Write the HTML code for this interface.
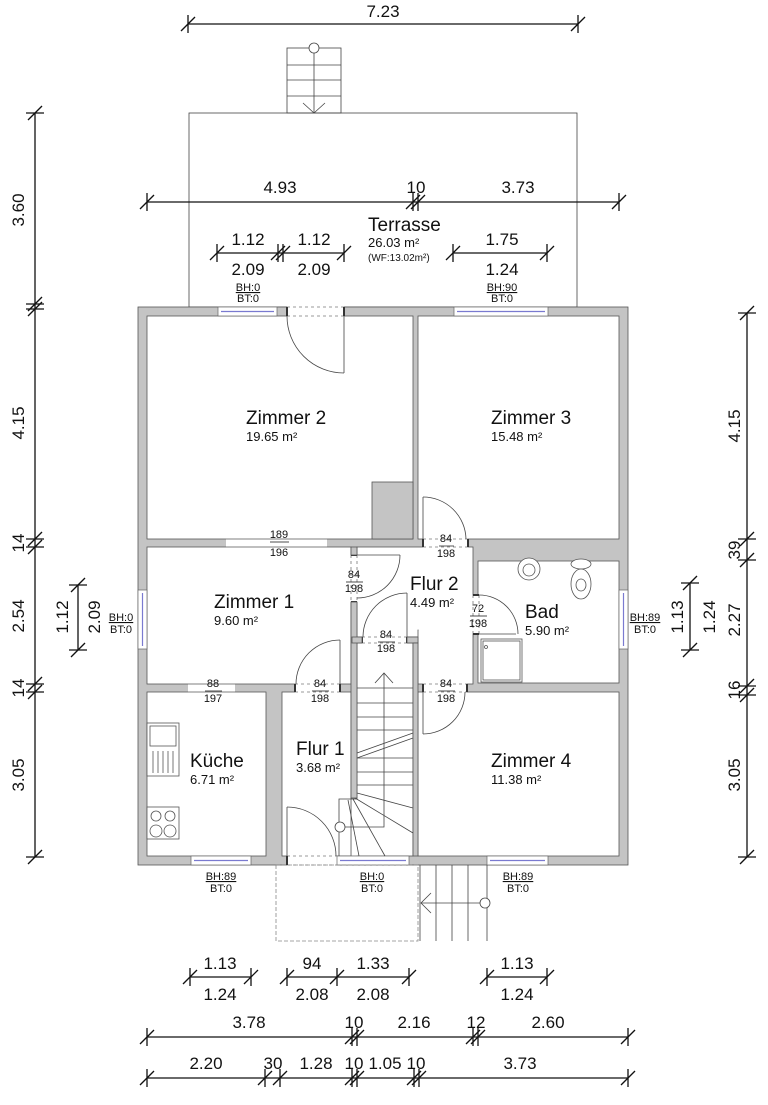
<!DOCTYPE html>
<html><head><meta charset="utf-8"><style>
html,body{margin:0;padding:0;background:#fff}
svg{display:block}
text{font-family:"Liberation Sans",Arial,sans-serif;fill:#111}
.d{font-size:17px}
.r{font-size:19px}
.a{font-size:13px}
.s{font-size:11px}
</style></head><body>
<svg width="768" height="1105" viewBox="0 0 768 1105" xmlns="http://www.w3.org/2000/svg">
<defs>
<g id="th" stroke="#111" stroke-width="1.3"><line x1="-7" y1="7" x2="7" y2="-7"/><line x1="0" y1="-9" x2="0" y2="9"/></g>
<g id="tv" stroke="#111" stroke-width="1.3"><line x1="-7" y1="7" x2="7" y2="-7"/><line x1="-9" y1="0" x2="9" y2="0"/></g>
</defs>

<rect x="189" y="113" width="388" height="194" fill="none" stroke="#444" stroke-width="0.8"/>
<g stroke="#444" stroke-width="0.8" fill="none">
<rect x="287" y="48" width="54" height="65"/>
<line x1="287" y1="65" x2="341" y2="65"/><line x1="287" y1="80" x2="341" y2="80"/><line x1="287" y1="96" x2="341" y2="96"/>
<line x1="314" y1="53" x2="314" y2="113"/><circle cx="314" cy="48" r="5" fill="#fff"/>
<polyline points="303,103 314,113 325,103"/>
</g>

<rect x="138" y="307" width="490" height="558" fill="#c4c4c4" stroke="#555" stroke-width="0.8"/>
<g fill="#fff" stroke="#555" stroke-width="0.8">
<rect x="147" y="316" width="266" height="223"/>
<rect x="418" y="316" width="201" height="223"/>
<rect x="147" y="547" width="204" height="137"/>
<rect x="478" y="561" width="141" height="122"/>
<rect x="418" y="692" width="201" height="164"/>
<rect x="147" y="692" width="119" height="164"/>
<rect x="282" y="692" width="69" height="164"/>
<rect x="357" y="643" width="56" height="213"/>
<rect x="357" y="547" width="116" height="90"/>
<rect x="418" y="630" width="55" height="54"/>
</g>
<g fill="#fff"><rect x="351.5" y="799" width="6" height="56.5"/><rect x="418.5" y="629" width="54" height="10"/></g>
<rect x="372" y="482" width="41" height="57" fill="#c4c4c4" stroke="#555" stroke-width="0.8"/>

<g fill="#fff" stroke="none">
<rect x="287" y="306" width="57" height="11"/>
<rect x="226" y="538" width="101" height="10"/>
<rect x="423" y="538" width="45" height="10"/>
<rect x="350" y="555" width="8" height="47"/>
<rect x="362" y="636" width="45" height="8"/>
<rect x="472" y="595" width="8" height="39"/>
<rect x="423" y="683" width="44" height="10"/>
<rect x="295" y="683" width="45" height="10"/>
<rect x="188" y="683" width="47" height="10"/>
<rect x="287" y="855" width="50" height="11"/>
</g>
<g stroke="#555" stroke-width="0.8" fill="none">
<line x1="226" y1="539" x2="327" y2="539"/><line x1="226" y1="547" x2="327" y2="547"/>
<line x1="188" y1="684" x2="235" y2="684"/><line x1="188" y1="692" x2="235" y2="692"/>
</g>
<g stroke="#777" stroke-width="0.8" stroke-dasharray="3,3" fill="none">
<line x1="287" y1="307" x2="344" y2="307"/><line x1="287" y1="316" x2="344" y2="316"/>
<line x1="423" y1="539" x2="468" y2="539"/><line x1="423" y1="547" x2="468" y2="547"/>
<line x1="362" y1="637" x2="407" y2="637"/><line x1="362" y1="643" x2="407" y2="643"/>
<line x1="423" y1="684" x2="467" y2="684"/><line x1="423" y1="692" x2="467" y2="692"/>
<line x1="295" y1="684" x2="340" y2="684"/><line x1="295" y1="692" x2="340" y2="692"/>
<line x1="287" y1="856" x2="337" y2="856"/><line x1="287" y1="865" x2="337" y2="865"/>
<line x1="351" y1="555" x2="351" y2="602"/><line x1="357" y1="555" x2="357" y2="602"/>
<line x1="473" y1="595" x2="473" y2="634"/><line x1="479" y1="595" x2="479" y2="634"/>
</g>
<g stroke="#333" stroke-width="2">
<line x1="287" y1="307" x2="287" y2="316"/><line x1="344" y1="307" x2="344" y2="316"/>
<line x1="423" y1="539" x2="423" y2="547"/><line x1="468" y1="539" x2="468" y2="547"/>
<line x1="362" y1="637" x2="362" y2="643"/><line x1="407" y1="637" x2="407" y2="643"/>
<line x1="423" y1="684" x2="423" y2="692"/><line x1="467" y1="684" x2="467" y2="692"/>
<line x1="295" y1="684" x2="295" y2="692"/><line x1="340" y1="684" x2="340" y2="692"/>
<line x1="287" y1="856" x2="287" y2="865"/>
<line x1="351" y1="555" x2="357" y2="555"/><line x1="351" y1="602" x2="357" y2="602"/>
<line x1="473" y1="595" x2="479" y2="595"/><line x1="473" y1="634" x2="479" y2="634"/>
</g>
<g stroke="#444" stroke-width="0.8" fill="none">
<line x1="344" y1="316" x2="344" y2="373"/><path d="M287 316 A57 57 0 0 0 344 373"/>
<line x1="423" y1="539" x2="423" y2="497"/><path d="M423 497 A43 43 0 0 1 466 539"/>
<line x1="357" y1="555" x2="400" y2="555"/><path d="M400 555 A43 43 0 0 1 357 598"/>
<line x1="407" y1="637" x2="407" y2="593"/><path d="M407 593 A44 44 0 0 0 363 637"/>
<line x1="479" y1="634" x2="516" y2="634"/><path d="M479 595 A39 39 0 0 1 518 634"/>
<line x1="423" y1="692" x2="423" y2="734"/><path d="M423 734 A42 42 0 0 0 465 692"/>
<line x1="340" y1="684" x2="340" y2="640"/><path d="M340 640 A44 44 0 0 0 296 684"/>
<line x1="287" y1="856" x2="287" y2="807"/><path d="M287 807 A49 49 0 0 1 336 856"/>
</g>

<g fill="#fff" stroke="#666" stroke-width="0.7">
<rect x="218" y="307" width="59" height="9"/><rect x="454" y="307" width="94" height="9"/>
<rect x="138" y="590" width="9" height="59"/><rect x="619" y="590" width="9" height="59"/>
<rect x="191" y="856" width="60" height="9"/><rect x="337" y="856" width="72" height="9"/><rect x="487" y="856" width="61" height="9"/>
</g>
<g stroke="#7a7ad0" stroke-width="1.2">
<line x1="221" y1="311.5" x2="274" y2="311.5"/><line x1="457" y1="311.5" x2="545" y2="311.5"/>
<line x1="142.5" y1="593" x2="142.5" y2="646"/><line x1="623.5" y1="593" x2="623.5" y2="646"/>
<line x1="194" y1="860.5" x2="248" y2="860.5"/><line x1="340" y1="860.5" x2="406" y2="860.5"/><line x1="490" y1="860.5" x2="545" y2="860.5"/>
</g>

<g stroke="#444" stroke-width="0.8" fill="none">
<line x1="357" y1="688" x2="413" y2="688"/><line x1="357" y1="703" x2="413" y2="703"/>
<line x1="357" y1="717" x2="413" y2="717"/><line x1="357" y1="730" x2="413" y2="730"/>
<line x1="357" y1="758" x2="413" y2="758"/><line x1="357" y1="772" x2="413" y2="772"/>
<line x1="357" y1="785" x2="413" y2="785"/>
<line x1="357" y1="753" x2="413" y2="733"/><line x1="357" y1="758" x2="413" y2="738"/>
<polyline points="384,673 384,827 339,827 339,799 357,799"/>
<polyline points="375,683 384,673 393,683"/>
<line x1="339" y1="827" x2="339" y2="856"/>
<line x1="357" y1="793" x2="413" y2="808"/><line x1="355" y1="798" x2="413" y2="833"/>
<line x1="353" y1="799" x2="385" y2="856"/><line x1="348" y1="800" x2="359" y2="856"/>
<circle cx="340" cy="827" r="5" fill="#fff"/>
</g>
<g fill="#c4c4c4" stroke="#555" stroke-width="0.8">
<rect x="351" y="602" width="6" height="196"/>
<rect x="351" y="547" width="6" height="8"/>
<rect x="352" y="637" width="10" height="6"/><rect x="407" y="637" width="11" height="6"/>
<rect x="413" y="643" width="5" height="213"/>
</g>

<rect x="276" y="865" width="142" height="76" fill="none" stroke="#888" stroke-width="0.8" stroke-dasharray="4,2"/>
<g stroke="#444" stroke-width="0.8" fill="none">
<line x1="420" y1="865" x2="420" y2="941"/><line x1="436" y1="865" x2="436" y2="941"/><line x1="452" y1="865" x2="452" y2="941"/><line x1="468" y1="865" x2="468" y2="941"/><line x1="487" y1="865" x2="487" y2="941"/>
<line x1="421" y1="903" x2="480" y2="903"/><polyline points="431,893 421,903 431,913"/>
<circle cx="485" cy="903" r="5" fill="#fff"/>
</g>

<g stroke="#555" stroke-width="0.8" fill="#fff">
<circle cx="529" cy="569" r="11"/><circle cx="529" cy="570" r="6"/>
<ellipse cx="581" cy="564" rx="10" ry="5"/><ellipse cx="581" cy="584" rx="10" ry="15"/><ellipse cx="581" cy="585" rx="5" ry="6"/>
<rect x="481" y="639" width="41" height="43"/><rect x="483" y="641" width="37" height="39"/>
<circle cx="486" cy="647" r="1.5"/>
</g>
<g stroke="#555" stroke-width="0.8" fill="#fff">
<rect x="147" y="723" width="32" height="53"/><rect x="150" y="726" width="26" height="20"/>
<line x1="153" y1="751" x2="153" y2="773"/><line x1="158" y1="751" x2="158" y2="773"/><line x1="163" y1="751" x2="163" y2="773"/><line x1="168" y1="751" x2="168" y2="773"/><line x1="173" y1="751" x2="173" y2="773"/>
<rect x="147" y="807" width="32" height="32"/>
<circle cx="156" cy="816" r="5"/><circle cx="170" cy="816" r="5"/><circle cx="156" cy="831" r="6"/><circle cx="170" cy="831" r="6"/>
</g>

<text class="r" x="246" y="424">Zimmer 2</text><text class="a" x="246" y="441">19.65 m²</text>
<text class="r" x="491" y="424">Zimmer 3</text><text class="a" x="491" y="441">15.48 m²</text>
<text class="r" x="214" y="608">Zimmer 1</text><text class="a" x="214" y="625">9.60 m²</text>
<text class="r" x="410" y="590">Flur 2</text><text class="a" x="410" y="607">4.49 m²</text>
<text class="r" x="525" y="618">Bad</text><text class="a" x="525" y="635">5.90 m²</text>
<text class="r" x="190" y="767">Küche</text><text class="a" x="190" y="784">6.71 m²</text>
<text class="r" x="296" y="755">Flur 1</text><text class="a" x="296" y="772">3.68 m²</text>
<text class="r" x="491" y="767">Zimmer 4</text><text class="a" x="491" y="784">11.38 m²</text>
<text class="r" x="368" y="231">Terrasse</text><text class="a" x="368" y="247">26.03 m²</text><text x="368" y="261" style="font-size:10px">(WF:13.02m²)</text>

<g class="s" text-anchor="middle">
<text x="279" y="538">189</text><text x="279" y="556">196</text>
<text x="446" y="542">84</text><text x="446" y="557">198</text>
<text x="354" y="578">84</text><text x="354" y="592">198</text>
<text x="386" y="638">84</text><text x="386" y="652">198</text>
<text x="478" y="612">72</text><text x="478" y="627">198</text>
<text x="446" y="687">84</text><text x="446" y="702">198</text>
<text x="320" y="687">84</text><text x="320" y="702">198</text>
<text x="213" y="687">88</text><text x="213" y="702">197</text>
<text x="248" y="291" text-decoration="underline">BH:0</text><text x="248" y="302">BT:0</text>
<text x="502" y="291" text-decoration="underline">BH:90</text><text x="502" y="302">BT:0</text>
<text x="221" y="880" text-decoration="underline">BH:89</text><text x="221" y="892">BT:0</text>
<text x="372" y="880" text-decoration="underline">BH:0</text><text x="372" y="892">BT:0</text>
<text x="518" y="880" text-decoration="underline">BH:89</text><text x="518" y="892">BT:0</text>
<text x="121" y="621" text-decoration="underline">BH:0</text><text x="121" y="633">BT:0</text>
<text x="645" y="621" text-decoration="underline">BH:89</text><text x="645" y="633">BT:0</text>
</g>
<g stroke="#111" stroke-width="0.7"><line x1="270" y1="542" x2="289" y2="542"/><line x1="439" y1="546" x2="454" y2="546"/><line x1="346" y1="582" x2="363" y2="582"/><line x1="378" y1="642" x2="395" y2="642"/><line x1="470" y1="616" x2="487" y2="616"/><line x1="438" y1="691" x2="455" y2="691"/><line x1="312" y1="691" x2="329" y2="691"/><line x1="205" y1="691" x2="222" y2="691"/></g>

<g stroke="#111" stroke-width="1.3">
<line x1="188" y1="24" x2="578" y2="24"/>
<line x1="147" y1="202" x2="619" y2="202"/>
<line x1="217" y1="253" x2="344" y2="253"/>
<line x1="453" y1="253" x2="547" y2="253"/>
<line x1="190" y1="977" x2="251" y2="977"/>
<line x1="287" y1="977" x2="409" y2="977"/>
<line x1="487" y1="977" x2="547" y2="977"/>
<line x1="147" y1="1037" x2="628" y2="1037"/>
<line x1="147" y1="1078" x2="628" y2="1078"/>
<line x1="35" y1="113" x2="35" y2="857"/>
<line x1="78" y1="585" x2="78" y2="650"/>
<line x1="747" y1="313" x2="747" y2="857"/>
<line x1="690" y1="583" x2="690" y2="650"/>
</g>
<use href="#th" x="188" y="24"/><use href="#th" x="578" y="24"/>
<use href="#th" x="147" y="202"/><use href="#th" x="413" y="202"/><use href="#th" x="418" y="202"/><use href="#th" x="619" y="202"/>
<use href="#th" x="217" y="253"/><use href="#th" x="278" y="253"/><use href="#th" x="283" y="253"/><use href="#th" x="344" y="253"/>
<use href="#th" x="453" y="253"/><use href="#th" x="547" y="253"/>
<use href="#th" x="190" y="977"/><use href="#th" x="251" y="977"/>
<use href="#th" x="287" y="977"/><use href="#th" x="337" y="977"/><use href="#th" x="409" y="977"/>
<use href="#th" x="487" y="977"/><use href="#th" x="547" y="977"/>
<use href="#th" x="147" y="1037"/><use href="#th" x="352" y="1037"/><use href="#th" x="357" y="1037"/><use href="#th" x="473" y="1037"/><use href="#th" x="478" y="1037"/><use href="#th" x="628" y="1037"/>
<use href="#th" x="147" y="1078"/><use href="#th" x="265" y="1078"/><use href="#th" x="280" y="1078"/><use href="#th" x="352" y="1078"/><use href="#th" x="357" y="1078"/><use href="#th" x="414" y="1078"/><use href="#th" x="419" y="1078"/><use href="#th" x="628" y="1078"/>
<use href="#tv" x="35" y="113"/><use href="#tv" x="35" y="304"/><use href="#tv" x="35" y="309"/><use href="#tv" x="35" y="539"/><use href="#tv" x="35" y="547"/><use href="#tv" x="35" y="684"/><use href="#tv" x="35" y="692"/><use href="#tv" x="35" y="857"/>
<use href="#tv" x="78" y="585"/><use href="#tv" x="78" y="650"/>
<use href="#tv" x="747" y="313"/><use href="#tv" x="747" y="539"/><use href="#tv" x="747" y="560"/><use href="#tv" x="747" y="686"/><use href="#tv" x="747" y="695"/><use href="#tv" x="747" y="857"/>
<use href="#tv" x="690" y="583"/><use href="#tv" x="690" y="650"/>

<g class="d" text-anchor="middle">
<text x="383" y="17">7.23</text>
<text x="280" y="193">4.93</text><text x="416" y="193">10</text><text x="518" y="193">3.73</text>
<text x="248" y="245">1.12</text><text x="314" y="245">1.12</text>
<text x="248" y="275">2.09</text><text x="314" y="275">2.09</text>
<text x="502" y="245">1.75</text><text x="502" y="275">1.24</text>
<text x="220" y="969">1.13</text><text x="220" y="1000">1.24</text>
<text x="312" y="969">94</text><text x="373" y="969">1.33</text>
<text x="312" y="1000">2.08</text><text x="373" y="1000">2.08</text>
<text x="517" y="969">1.13</text><text x="517" y="1000">1.24</text>
<text x="249" y="1028">3.78</text><text x="354" y="1028">10</text><text x="414" y="1028">2.16</text><text x="476" y="1028">12</text><text x="548" y="1028">2.60</text>
<text x="206" y="1069">2.20</text><text x="273" y="1069">30</text><text x="316" y="1069">1.28</text><text x="354" y="1069">10</text><text x="385" y="1069">1.05</text><text x="416" y="1069">10</text><text x="520" y="1069">3.73</text>
<text transform="translate(24,210) rotate(-90)">3.60</text>
<text transform="translate(24,423) rotate(-90)">4.15</text>
<text transform="translate(24,543) rotate(-90)">14</text>
<text transform="translate(24,616) rotate(-90)">2.54</text>
<text transform="translate(24,688) rotate(-90)">14</text>
<text transform="translate(24,775) rotate(-90)">3.05</text>
<text transform="translate(68,617) rotate(-90)">1.12</text>
<text transform="translate(100,617) rotate(-90)">2.09</text>
<text transform="translate(740,426) rotate(-90)">4.15</text>
<text transform="translate(740,550) rotate(-90)">39</text>
<text transform="translate(740,620) rotate(-90)">2.27</text>
<text transform="translate(740,690) rotate(-90)">16</text>
<text transform="translate(740,775) rotate(-90)">3.05</text>
<text transform="translate(683,617) rotate(-90)">1.13</text>
<text transform="translate(715,617) rotate(-90)">1.24</text>
</g>
</svg>
</body></html>
